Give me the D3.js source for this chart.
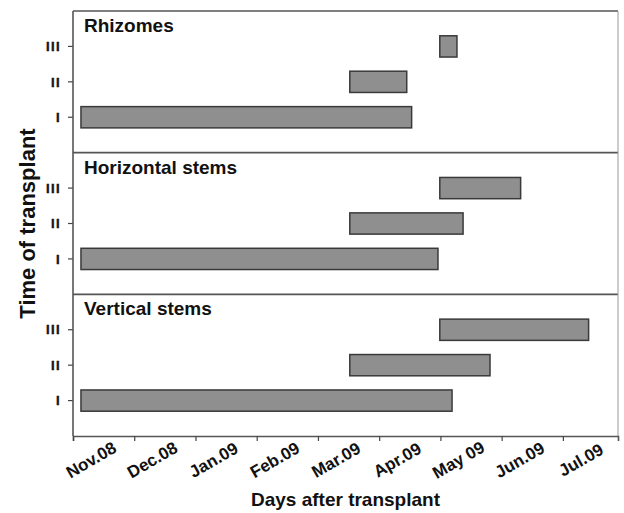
<!DOCTYPE html>
<html>
<head>
<meta charset="utf-8">
<script src="https://cdn.jsdelivr.net/npm/d3@7"></script>
<style>
  body { margin: 0; background: #fff; }
  text { font-family: "Liberation Sans", Arial, sans-serif; font-weight: bold; fill: #111; }
</style>
</head>
<body>
<div id="chart"></div>
<script>
// months after 1 Nov 2008 (fractional)
var panelNames = ["Rhizomes", "Horizontal stems", "Vertical stems"];
var timeLabels = ["I", "II", "III"];
var rhizStart = [0.13, 4.52, 5.99];
var rhizEnd = [5.53, 5.45, 6.27];
var horizStart = [0.13, 4.52, 5.99];
var horizEnd = [5.96, 6.37, 7.31];
var vertStart = [0.13, 4.52, 5.99];
var vertEnd = [6.19, 6.81, 8.42];
var monthLabels = ["Nov.08", "Dec.08", "Jan.09", "Feb.09", "Mar.09", "Apr.09", "May 09", "Jun.09", "Jul.09"];

var starts = [rhizStart, horizStart, vertStart];
var ends = [rhizEnd, horizEnd, vertEnd];

var width = 624, height = 513;
var mLeft = 73, mRight = 618, mTop = 11, mBottom = 436;

var svg = d3.select("#chart").append("svg")
    .attr("width", width)
    .attr("height", height);

var x = d3.scaleLinear().domain([0, 8.9]).range([mLeft, mRight]);
var panelBand = d3.scaleBand().domain(panelNames).range([mTop, mBottom]);

panelNames.forEach(function(name, p) {
  var y0 = panelBand(name), y1 = y0 + panelBand.bandwidth();
  var y = d3.scaleLinear().domain([0, 4]).range([y1, y0]);
  var g = svg.append("g");

  var rows = timeLabels.map(function(t, i) {
    return { t: t, v: i + 1, s: starts[p][i], e: ends[p][i] };
  });

  g.selectAll("rect.bar")
    .data(rows)
    .enter().append("rect")
      .attr("class", "bar")
      .attr("x", function(d) { return x(d.s); })
      .attr("width", function(d) { return x(d.e) - x(d.s); })
      .attr("y", function(d) { return y(d.v + 0.3); })
      .attr("height", function(d) { return y(d.v - 0.3) - y(d.v + 0.3); })
      .attr("fill", "#8f8f8f")
      .attr("stroke", "#3a3a3a")
      .attr("stroke-width", 1.5);

  // y ticks
  g.selectAll("line.tick")
    .data(rows)
    .enter().append("line")
      .attr("x1", mLeft - 5).attr("x2", mLeft)
      .attr("y1", function(d) { return y(d.v); })
      .attr("y2", function(d) { return y(d.v); })
      .attr("stroke", "#444").attr("stroke-width", 1.2);

  g.selectAll("text.tl")
    .data(rows)
    .enter().append("text")
      .attr("x", mLeft - 12)
      .attr("y", function(d) { return y(d.v); })
      .attr("dy", "0.36em")
      .attr("text-anchor", "end")
      .style("font-size", "13px")
      .style("letter-spacing", "1.4px")
      .style("stroke", "#111").style("stroke-width", 0.4)
      .text(function(d) { return d.t; });

  g.append("text")
    .attr("x", mLeft + 11)
    .attr("y", y0 + 21)
    .style("font-size", "19px")
    .text(name);

  // panel top line
  g.append("line")
    .attr("x1", mLeft).attr("x2", mRight)
    .attr("y1", y0).attr("y2", y0)
    .attr("stroke", "#555").attr("stroke-width", 1.6);
});

// frame
svg.append("line").attr("x1", mLeft).attr("x2", mLeft).attr("y1", mTop).attr("y2", mBottom)
  .attr("stroke", "#555").attr("stroke-width", 1.6);
svg.append("line").attr("x1", mRight).attr("x2", mRight).attr("y1", mTop).attr("y2", mBottom)
  .attr("stroke", "#999").attr("stroke-width", 1);

// x axis
var xAxis = d3.axisBottom(x)
  .tickValues(d3.range(monthLabels.length))
  .tickSize(5)
  .tickFormat("");
var ax = svg.append("g")
  .attr("transform", "translate(0," + mBottom + ")")
  .call(xAxis);
ax.select(".domain").attr("stroke", "#555").attr("stroke-width", 1.6);
ax.selectAll(".tick line").attr("stroke", "#444").attr("stroke-width", 1.2);

svg.selectAll("text.xl")
  .data(monthLabels)
  .enter().append("text")
    .attr("class", "xl")
    .attr("text-anchor", "middle")
    .attr("transform", function(d, i) {
      return "translate(" + (x(i) + 21) + "," + 465 + ") rotate(-30)";
    })
    .style("font-size", "17px")
    .text(function(d) { return d; });

svg.append("text")
  .attr("x", (mLeft + mRight) / 2)
  .attr("y", 506)
  .attr("text-anchor", "middle")
  .style("font-size", "19px")
  .text("Days after transplant");

svg.append("text")
  .attr("transform", "translate(35," + ((mTop + mBottom) / 2) + ") rotate(-90)")
  .attr("text-anchor", "middle")
  .style("font-size", "22px")
  .text("Time of transplant");
</script>
</body>
</html>
